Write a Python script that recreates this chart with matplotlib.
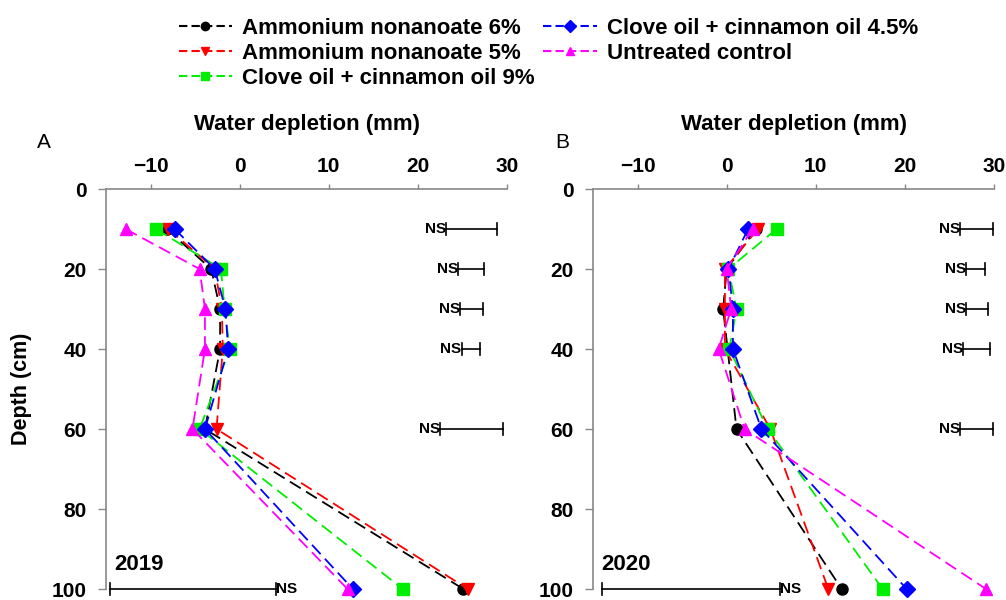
import matplotlib
matplotlib.use("Agg")
import matplotlib.pyplot as plt
import matplotlib.lines as mlines

plt.rcParams['font.family'] = ['Liberation Sans', 'DejaVu Sans']

# Data
depth = [10, 20, 30, 40, 60, 100]

treatments = ["Ammonium nonanoate 6%", "Ammonium nonanoate 5%",
              "Clove oil + cinnamon oil 9%", "Clove oil + cinnamon oil 4.5%",
              "Untreated control"]

# 2019 water depletion (mm)
an6_2019 = [-8.2, -3.2, -2.2, -2.2, -3.9, 25.1]
an5_2019 = [-8.0, -2.8, -2.0, -1.9, -2.6, 25.6]
cc9_2019 = [-9.4, -2.1, -1.7, -1.1, -4.5, 18.3]
cc45_2019 = [-7.3, -2.8, -1.6, -1.3, -3.9, 12.7]
ctrl_2019 = [-12.8, -4.5, -3.9, -3.9, -5.3, 12.1]

# 2020 water depletion (mm)
an6_2020 = [3.3, 0.0, -0.4, 0.1, 1.1, 12.9]
an5_2020 = [3.5, -0.2, -0.2, -0.2, 4.9, 11.4]
cc9_2020 = [5.6, 0.2, 1.1, 0.3, 4.6, 17.5]
cc45_2020 = [2.4, 0.2, 0.7, 0.7, 3.9, 20.2]
ctrl_2020 = [2.9, 0.0, 0.5, -0.9, 2.0, 29.1]

# LSD bars (left end, right end), all NS
lsd_lo_2019 = [23.2, 24.5, 24.7, 24.9, 22.5, -14.5]
lsd_hi_2019 = [28.9, 27.4, 27.3, 27.0, 29.5, 4.1]
lsd_lo_2020 = [26.2, 26.9, 26.9, 26.5, 26.2, -14.0]
lsd_hi_2020 = [29.9, 29.0, 29.3, 29.6, 29.9, 6.0]

colors = ["black", "red", "#00ee00", "blue", "magenta"]
markers = ["o", "v", "s", "D", "^"]
msizes = [8, 9, 8, 8, 9]

fig = plt.figure(figsize=(10.06, 6), dpi=100)
axA = fig.add_axes([0.1054, 0.0183, 0.3986, 0.6667])
axB = fig.add_axes([0.5895, 0.0183, 0.3986, 0.6667])

panels = [
    (axA, [an6_2019, an5_2019, cc9_2019, cc45_2019, ctrl_2019],
     lsd_lo_2019, lsd_hi_2019, "2019", "A"),
    (axB, [an6_2020, an5_2020, cc9_2020, cc45_2020, ctrl_2020],
     lsd_lo_2020, lsd_hi_2020, "2020", "B"),
]

for ax, series, lo, hi, year, letter in panels:
    for vals, c, m, ms in zip(series, colors, markers, msizes):
        ax.plot(vals, depth, color=c, linestyle=(0, (7, 3.5)), linewidth=1.3,
                marker=m, markersize=ms, markeredgecolor=c, clip_on=False)

    # NS bars
    for d, a, b in zip(depth, lo, hi):
        ax.plot([a, b], [d, d], color="black", linewidth=1.2, clip_on=False)
        ax.plot([a, a], [d - 1.5, d + 1.5], color="black", linewidth=1.2, clip_on=False)
        ax.plot([b, b], [d - 1.5, d + 1.5], color="black", linewidth=1.2, clip_on=False)
        if d == 100:
            ax.text(b, d, "NS", ha="left", va="center", fontsize=11, fontweight="bold")
        else:
            ax.text(a, d, "NS", ha="right", va="center", fontsize=11, fontweight="bold")

    ax.set_xlim(-15, 30)
    ax.set_ylim(100, 0)
    ax.set_xticks([-10, 0, 10, 20, 30])
    ax.set_yticks([0, 20, 40, 60, 80, 100])
    ax.xaxis.tick_top()
    ax.xaxis.set_label_position("top")
    ax.set_xlabel("Water depletion (mm)", fontsize=16, fontweight="bold", labelpad=20)
    for side in ["right", "bottom"]:
        ax.spines[side].set_visible(False)
    for side in ["left", "top"]:
        ax.spines[side].set_color("#888888")
        ax.spines[side].set_linewidth(1.2)
    ax.tick_params(axis="x", direction="out", length=3.6, width=1, color="#888888",
                   labelsize=15, pad=5.5)
    ax.tick_params(axis="y", direction="out", length=5.8, width=1, color="#888888",
                   labelsize=15, pad=8)
    for lab in ax.get_xticklabels() + ax.get_yticklabels():
        lab.set_fontweight("bold")
    ax.text(0.02, 0.035, year, transform=ax.transAxes, fontsize=16,
            fontweight="bold", va="bottom", ha="left")

axA.set_ylabel("Depth (cm)", fontsize=15.5, fontweight="bold", labelpad=14)

fig.text(44 / 1006, 1 - 142 / 600, "A", fontsize=15, ha="center", va="center")
fig.text(562 / 1006, 1 - 142 / 600, "B", fontsize=15, ha="center", va="center")

# Legend
handles = []
for name, c, m in zip(treatments, colors, markers):
    handles.append(mlines.Line2D([], [], color=c, linestyle=(0, (4, 2)), linewidth=1.5,
                                 marker=m, markersize=6, label=name))
fig.legend(handles=handles, loc="upper left", bbox_to_anchor=(163 / 1006, 1 - 2 / 600),
           ncol=2, frameon=False, prop={"weight": "bold", "size": 16},
           handlelength=2.4, handletextpad=0.45, columnspacing=0.4,
           labelspacing=0.18, borderpad=0.2)

plt.savefig("out.png", dpi=100)
